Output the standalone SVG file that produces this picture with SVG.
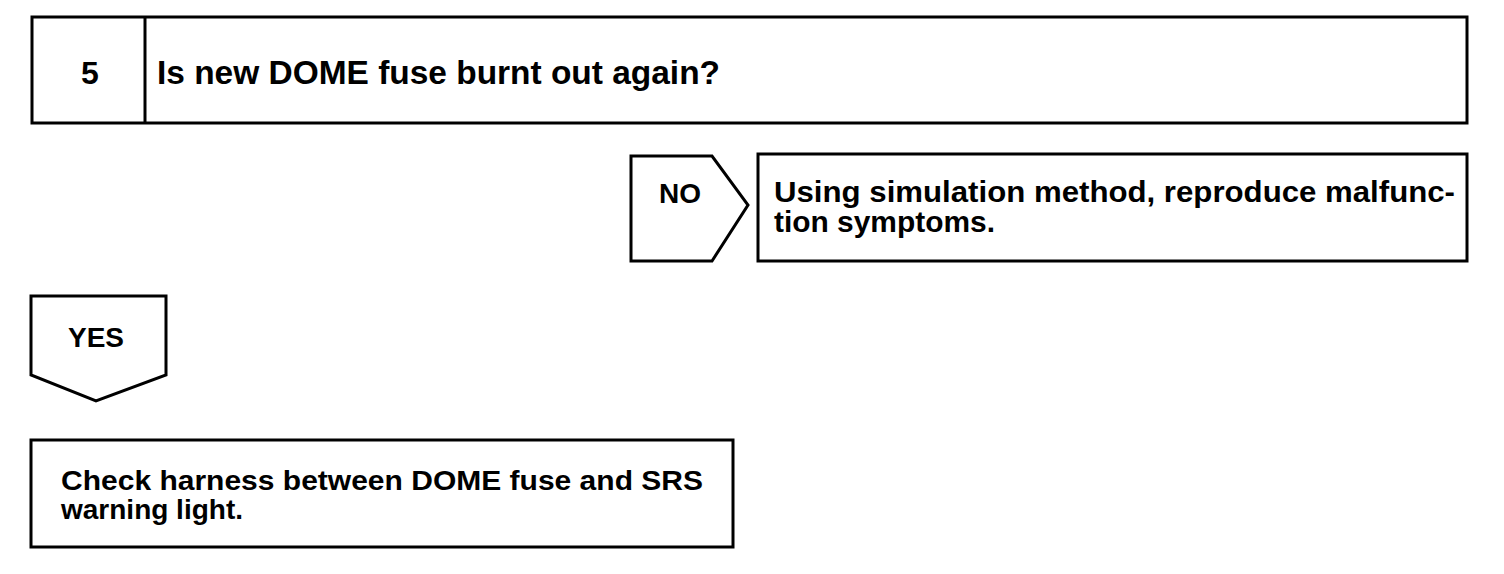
<svg xmlns="http://www.w3.org/2000/svg" width="1504" height="574" viewBox="0 0 1504 574">
<style>
.box{fill:#fff;stroke:#000;stroke-width:3;stroke-linejoin:miter}
.t{font-family:"Liberation Sans",Arial,sans-serif;font-weight:bold;fill:#000}
</style>
<rect width="1504" height="574" fill="#fff"/>
<g id="step5">
<rect class="box" x="32" y="17" width="1435" height="106"/>
<line class="box" x1="145" y1="17" x2="145" y2="123"/>
<text class="t" x="90" y="84" font-size="32" text-anchor="middle">5</text>
<text class="t" x="157" y="84" font-size="33" textLength="563" lengthAdjust="spacingAndGlyphs">Is new DOME fuse burnt out again?</text>
</g>
<g id="connectors">
<g id="no">
<polygon class="box" points="631,156 712,156 748,205 712,261 631,261"/>
<text class="t" x="680" y="203" font-size="28" text-anchor="middle">NO</text>
</g>
<g id="yes">
<polygon class="box" points="31,296 166,296 166,375 96,401 31,375"/>
<text class="t" x="96" y="347" font-size="28" text-anchor="middle">YES</text>
</g>
</g>
<g id="simulate">
<rect class="box" x="758" y="154" width="709" height="107"/>
<text class="t" x="774" y="202" font-size="29" textLength="681" lengthAdjust="spacingAndGlyphs">Using simulation method, reproduce malfunc-</text>
<text class="t" x="774" y="232" font-size="29" textLength="221" lengthAdjust="spacingAndGlyphs">tion symptoms.</text>
</g>
<g id="check">
<rect class="box" x="31" y="440" width="702" height="107"/>
<text class="t" x="61" y="490" font-size="28" textLength="642" lengthAdjust="spacingAndGlyphs">Check harness between DOME fuse and SRS</text>
<text class="t" x="61" y="519" font-size="28">warning light.</text>
</g>
</svg>
